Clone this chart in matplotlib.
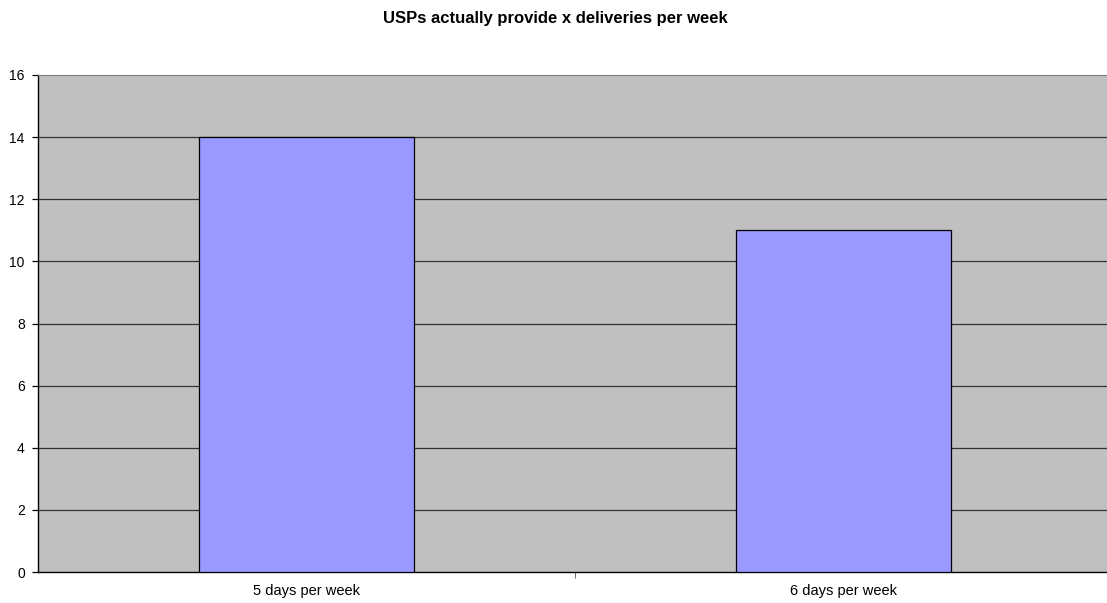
import matplotlib
matplotlib.use("Agg")
import matplotlib.pyplot as plt

categories = ["5 days per week", "6 days per week"]
counts = [14, 11]
y_ticks = [0, 2, 4, 6, 8, 10, 12, 14, 16]

plt.rcParams["font.family"] = ["Liberation Sans", "DejaVu Sans"]

W, H = 1107, 603
fig = plt.figure(figsize=(W / 100, H / 100), dpi=100)
ax = fig.add_axes([38 / W, (H - 572) / H, (1112 - 38) / W, (572 - 75) / H])
ax.set_facecolor("#C0C0C0")

x = list(range(len(categories)))
ax.bar(x, counts, width=0.4, color="#9999FF", edgecolor="black", linewidth=0.9, zorder=3)

ax.set_xlim(-0.5, len(categories) - 0.5)
ax.set_ylim(0, 16)
ax.set_yticks(y_ticks)
ax.set_yticklabels([str(v) for v in y_ticks], fontsize=10)
for v in y_ticks[1:-1]:
    ax.axhline(v, color="#333333", linewidth=0.9, zorder=1)

ax.set_xticks(x)
ax.set_xticklabels(categories, fontsize=10.5)
ax.tick_params(axis="x", length=0, pad=9)
ax.set_xticks([0.5], minor=True)
ax.tick_params(axis="x", which="minor", length=4, color="#555555", direction="out")
ax.tick_params(axis="y", length=4, direction="out", width=0.9, pad=5.5)

ax.spines["top"].set_color("#808080")
ax.spines["right"].set_visible(False)
ax.spines["left"].set_color("black")
ax.spines["bottom"].set_color("black")
for s in ("left", "bottom"):
    ax.spines[s].set_linewidth(1.0)

fig.text(555 / W, 1 - 18 / H, "USPs actually provide x deliveries per week",
         ha="center", va="center", fontsize=12, fontweight="bold")

fig.savefig("out.png", dpi=100)
